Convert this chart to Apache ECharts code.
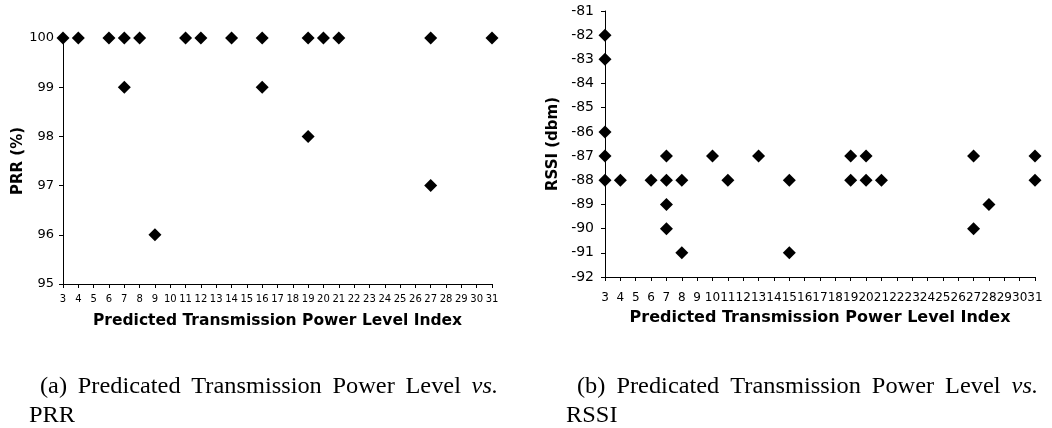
<!DOCTYPE html>
<html>
<head>
<meta charset="utf-8">
<script src="https://cdn.jsdelivr.net/npm/echarts@6/dist/echarts.min.js"></script>
<style>
  html, body { margin: 0; padding: 0; background: #fff; }
  #chart { width: 1052px; height: 428px; }
</style>
</head>
<body>
<div id="chart"></div>
<script>
// Predicted transmission power level index (x) for both panels
const levelTicks = [3, 4, 5, 6, 7, 8, 9, 10, 11, 12, 13, 14, 15, 16, 17, 18, 19, 20, 21, 22, 23, 24, 25, 26, 27, 28, 29, 30, 31];

// (a) packet reception ratio per predicted level
const prrTicks = [95, 96, 97, 98, 99, 100];
const prrLevels = [3, 4, 6, 7, 7, 8, 9, 11, 12, 14, 16, 16, 19, 19, 20, 21, 27, 27, 31];
const prrValues = [100, 100, 100, 100, 99, 100, 96, 100, 100, 100, 100, 99, 100, 98, 100, 100, 100, 97, 100];

// (b) received signal strength per predicted level
const rssiTicks = [-92, -91, -90, -89, -88, -87, -86, -85, -84, -83, -82, -81];
const rssiLevels = [3, 3, 3, 3, 3, 4, 6, 7, 7, 7, 7, 8, 8, 10, 11, 13, 15, 15, 19, 19, 20, 20, 21, 27, 27, 28, 31, 31];
const rssiValues = [-82, -83, -86, -87, -88, -88, -88, -87, -88, -89, -90, -88, -91, -87, -88, -87, -88, -91, -87, -88, -87, -88, -88, -87, -90, -89, -87, -88];

// Sub-figure captions
const captionA = { tag: '(a)', words: ['Predicated', 'Transmission', 'Power', 'Level'], tail: 'vs.', second: 'PRR' };
const captionB = { tag: '(b)', words: ['Predicated', 'Transmission', 'Power', 'Level'], tail: 'vs.', second: 'RSSI' };
const xTitle = 'Predicted Transmission Power Level Index';

const sans = 'DejaVu Sans';
const serif = 'Liberation Serif';
const ink = '#000';

const pairs = (xs, ys) => xs.map((x, i) => [x, ys[i]]);

// Caption type: a serif face widened slightly
const capSize = 23;
const capStretch = 1.06;

// Lay one justified caption line between x0 and x1, text bottom at y
function captionLine(cap, x0, x1, y) {
  const ctx = document.createElement('canvas').getContext('2d');
  const parts = [cap.tag].concat(cap.words).concat([cap.tail]);
  const last = parts.length - 1;
  const widths = parts.map((p, i) => {
    ctx.font = (i === last ? 'italic ' : '') + capSize + 'px "' + serif + '"';
    return ctx.measureText(p).width * capStretch;
  });
  const total = widths.reduce((a, b) => a + b, 0);
  const gap = (x1 - x0 - total) / last;
  const out = [];
  let x = x0;
  parts.forEach((p, i) => {
    out.push({
      type: 'text', x: x, y: y, scaleX: capStretch,
      style: {
        text: p, fill: ink, fontFamily: serif, fontSize: capSize,
        fontStyle: i === last ? 'italic' : 'normal',
        textAlign: 'left', textVerticalAlign: 'bottom'
      }
    });
    x += widths[i] + gap;
  });
  return out;
}

function secondLine(text, x, y) {
  return {
    type: 'text', x: x, y: y, scaleX: capStretch,
    style: { text: text, fill: ink, fontFamily: serif, fontSize: capSize, textAlign: 'left', textVerticalAlign: 'bottom' }
  };
}

const graphics = []
  .concat(captionLine(captionA, 40, 498, 398))
  .concat([secondLine(captionA.second, 29, 427)])
  .concat(captionLine(captionB, 577, 1038, 398))
  .concat([secondLine(captionB.second, 566, 427)]);

function xAxisFor(gridIndex, labelSize, labelMargin, nameGap, nameSize) {
  return {
    type: 'value', gridIndex: gridIndex,
    min: levelTicks[0], max: levelTicks[levelTicks.length - 1], interval: 1,
    name: xTitle, nameLocation: 'middle', nameGap: nameGap,
    nameTextStyle: { fontFamily: sans, fontWeight: 'bold', fontSize: nameSize, color: ink },
    axisLine: { show: true, lineStyle: { color: ink, width: 1 } },
    axisTick: { show: true, length: 4, lineStyle: { color: ink } },
    axisLabel: { fontFamily: sans, fontSize: labelSize, color: ink, margin: labelMargin,
      formatter: v => String(v) },
    splitLine: { show: false }
  };
}

function yAxisFor(gridIndex, ticks, name, labelSize, labelMargin, nameGap) {
  return {
    type: 'value', gridIndex: gridIndex,
    min: ticks[0], max: ticks[ticks.length - 1], interval: 1,
    name: name, nameLocation: 'middle', nameGap: nameGap,
    nameTextStyle: { fontFamily: sans, fontWeight: 'bold', fontSize: 15, color: ink },
    axisLine: { show: true, lineStyle: { color: ink, width: 1 } },
    axisTick: { show: true, length: 4, lineStyle: { color: ink } },
    axisLabel: { fontFamily: sans, fontSize: labelSize, color: ink, margin: labelMargin },
    splitLine: { show: false }
  };
}

// Solid black diamonds, fully opaque
const marker = { symbol: 'diamond', symbolSize: [13, 13], itemStyle: { color: '#000', opacity: 1 } };

const chart = echarts.init(document.getElementById('chart'), null, { renderer: 'canvas' });
chart.setOption({
  animation: false,
  backgroundColor: '#fff',
  grid: [
    { left: 63, right: 560, top: 38, bottom: 144 },
    { left: 605, right: 17, top: 11, bottom: 151 }
  ],
  xAxis: [
    xAxisFor(0, 10, 10, 29, 15.5),
    xAxisFor(1, 12, 15, 33, 16)
  ],
  yAxis: [
    yAxisFor(0, prrTicks, 'PRR (%)', 13, 9, 37),
    yAxisFor(1, rssiTicks, 'RSSI (dbm)', 14, 11, 44)
  ],
  series: [
    Object.assign({ type: 'scatter', xAxisIndex: 0, yAxisIndex: 0, data: pairs(prrLevels, prrValues) }, marker),
    Object.assign({ type: 'scatter', xAxisIndex: 1, yAxisIndex: 1, data: pairs(rssiLevels, rssiValues) }, marker)
  ],
  graphic: graphics
});
</script>
</body>
</html>
